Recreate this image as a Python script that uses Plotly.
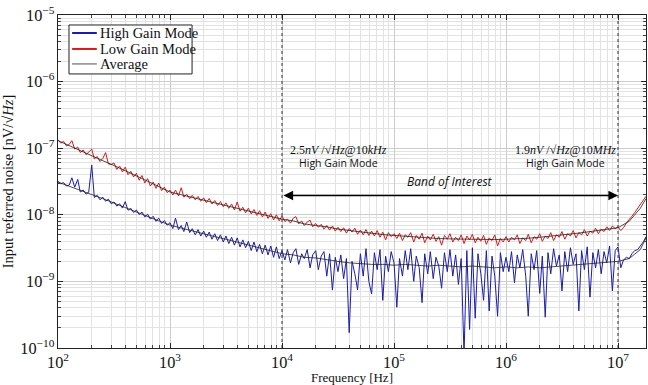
import math
import plotly.graph_objects as go

# Measurement frequency grid [Hz]
freq_hz = [
    100, 106, 112, 119, 126, 133, 141, 150, 158, 168, 178, 188, 200, 211, 224, 237, 251, 266, 282, 299,
    316, 335, 355, 376, 398, 422, 447, 473, 501, 531, 562, 596, 631, 668, 708, 750, 794, 841, 891, 944,
    1000, 1060, 1120, 1190, 1260, 1330, 1410, 1500, 1580, 1680, 1780, 1880, 2000, 2110, 2240, 2370, 2510, 2660, 2820, 2990,
    3160, 3350, 3550, 3760, 3980, 4220, 4470, 4730, 5010, 5310, 5620, 5960, 6310, 6680, 7080, 7500, 7940, 8410, 8910, 9440,
    1.00e4, 1.06e4, 1.12e4, 1.19e4, 1.26e4, 1.33e4, 1.41e4, 1.50e4, 1.58e4, 1.68e4, 1.78e4, 1.88e4, 2.00e4, 2.11e4, 2.24e4, 2.37e4, 2.51e4, 2.66e4, 2.82e4, 2.99e4,
    3.16e4, 3.35e4, 3.55e4, 3.76e4, 3.98e4, 4.22e4, 4.47e4, 4.73e4, 5.01e4, 5.31e4, 5.62e4, 5.96e4, 6.31e4, 6.68e4, 7.08e4, 7.50e4, 7.94e4, 8.41e4, 8.91e4, 9.44e4,
    1.00e5, 1.06e5, 1.12e5, 1.19e5, 1.26e5, 1.33e5, 1.41e5, 1.50e5, 1.58e5, 1.68e5, 1.78e5, 1.88e5, 2.00e5, 2.11e5, 2.24e5, 2.37e5, 2.51e5, 2.66e5, 2.82e5, 2.99e5,
    3.16e5, 3.35e5, 3.55e5, 3.76e5, 3.98e5, 4.22e5, 4.47e5, 4.73e5, 5.01e5, 5.31e5, 5.62e5, 5.96e5, 6.31e5, 6.68e5, 7.08e5, 7.50e5, 7.94e5, 8.41e5, 8.91e5, 9.44e5,
    1.00e6, 1.06e6, 1.12e6, 1.19e6, 1.26e6, 1.33e6, 1.41e6, 1.50e6, 1.58e6, 1.68e6, 1.78e6, 1.88e6, 2.00e6, 2.11e6, 2.24e6, 2.37e6, 2.51e6, 2.66e6, 2.82e6, 2.99e6,
    3.16e6, 3.35e6, 3.55e6, 3.76e6, 3.98e6, 4.22e6, 4.47e6, 4.73e6, 5.01e6, 5.31e6, 5.62e6, 5.96e6, 6.31e6, 6.68e6, 7.08e6, 7.50e6, 7.94e6, 8.41e6, 8.91e6, 9.44e6,
    1.00e7, 1.06e7, 1.12e7, 1.19e7, 1.26e7, 1.33e7, 1.41e7, 1.50e7, 1.58e7, 1.68e7, 1.78e7,
]

# Low gain mode noise [nV/sqrt(Hz)]
low_gain_nv = [
    134, 119, 127, 108, 114, 130, 97, 104, 86, 94, 80, 87, 97, 69, 75, 63, 70, 86, 58, 57,
    60, 48, 54, 44, 52, 40, 45, 37, 42, 33, 39, 30, 35, 27, 31, 25, 30, 23, 26, 21.5,
    23.5, 19.8, 23.5, 19.2, 25.5, 18.4, 20.4, 17.4, 19.6, 16.8, 18.9, 16.0, 18.0, 15.2, 17.6, 14.5, 16.4, 13.8, 15.8, 13.2,
    15.1, 12.5, 14.5, 11.8, 15.6, 11.3, 13.0, 10.7, 12.6, 10.3, 12.0, 9.8, 11.5, 9.3, 11.0, 8.8, 10.4, 8.4, 10.0, 8.1,
    9.6, 7.9, 8.6, 7.5, 8.9, 9.4, 7.3, 8.1, 6.9, 7.8, 8.3, 6.6, 7.4, 6.5, 7.2, 6.1, 6.9, 5.9, 6.8, 5.7,
    6.5, 5.6, 6.4, 5.3, 6.2, 5.5, 6.3, 5.1, 5.9, 5.0, 6.0, 4.9, 5.7, 4.8, 5.8, 4.6, 5.5, 4.2, 5.4, 4.7,
    5.2, 4.4, 5.3, 4.1, 5.0, 4.6, 5.4, 3.9, 4.9, 4.3, 5.3, 3.8, 4.8, 4.2, 5.1, 4.0, 4.7, 3.5, 4.9, 4.3,
    5.2, 3.9, 4.6, 4.1, 5.0, 3.7, 4.8, 4.2, 5.1, 3.8, 4.6, 4.0, 4.9, 3.6, 4.5, 4.1, 5.0, 3.4, 4.4, 3.9,
    4.7, 3.9, 4.6, 4.2, 5.0, 3.7, 4.5, 4.1, 5.1, 3.8, 4.7, 4.3, 5.2, 4.0, 4.8, 4.4, 5.4, 4.1, 5.0, 4.6,
    5.6, 4.3, 5.2, 4.8, 5.8, 4.5, 5.4, 5.0, 6.0, 4.8, 5.7, 5.3, 6.3, 5.2, 6.1, 5.6, 6.6, 5.8, 6.8, 6.2,
    6.6, 5.8, 6.4, 7.6, 8.4, 9.5, 10.8, 12.5, 14.2, 16.5, 19.0,
]

# High gain mode noise [nV/sqrt(Hz)]
high_gain_nv = [
    32, 29, 30.5, 27, 28, 36, 26, 34, 22, 23.5, 20.5, 21.8, 56, 18.2, 19.6, 16.8, 18.4, 16.0, 17.2, 14.6,
    15.6, 13.5, 14.6, 12.6, 15.8, 11.7, 12.5, 10.8, 11.8, 10.1, 11.0, 9.3, 10.2, 8.6, 9.5, 8.0, 8.9, 7.4, 8.2, 7.0,
    7.6, 6.2, 8.9, 6.0, 6.9, 5.6, 7.8, 5.4, 6.2, 5.0, 6.0, 4.8, 5.7, 4.6, 5.5, 4.3, 5.2, 4.1, 5.0, 3.9,
    4.8, 3.7, 4.6, 3.5, 4.5, 3.3, 4.2, 3.2, 4.0, 2.9, 3.9, 2.8, 3.6, 2.6, 3.5, 2.5, 3.4, 2.3, 3.3, 2.2,
    2.9, 2.1, 3.0, 1.9, 2.7, 3.1, 1.8, 2.6, 2.2, 3.0, 1.6, 2.5, 2.9, 1.5, 2.4, 2.8, 1.2, 2.6, 0.74, 2.3,
    1.4, 2.5, 1.1, 2.2, 0.17, 2.0, 1.3, 0.75, 2.6, 1.2, 3.1, 1.0, 0.65, 2.7, 1.5, 3.0, 0.52, 2.4, 1.4, 2.8,
    1.9, 0.41, 2.2, 1.2, 2.9, 1.5, 3.1, 1.0, 2.4, 1.6, 0.48, 2.6, 1.3, 2.8, 1.1, 2.3, 1.7, 0.79, 2.7, 1.4,
    3.0, 1.2, 2.5, 0.9, 2.2, 0.08, 2.9, 0.19, 3.2, 0.28, 2.6, 1.3, 0.52, 2.9, 0.36, 2.4, 1.2, 0.30, 2.7, 1.4,
    2.3, 1.4, 2.8, 0.96, 2.5, 1.6, 3.0, 1.2, 0.30, 2.6, 1.5, 2.9, 0.66, 2.4, 0.29, 2.7, 1.3, 3.1, 1.7, 2.5,
    0.72, 2.8, 1.4, 3.2, 1.8, 2.6, 0.36, 2.9, 1.5, 3.3, 0.58, 2.7, 1.6, 3.0, 1.3, 2.8, 1.9, 3.4, 0.72, 2.9,
    3.3, 1.6, 2.1, 2.3, 2.2, 2.6, 2.9, 3.0, 3.4, 3.9, 4.7,
]

# Smoothed (averaged) spectra on a coarser grid
avg_freq_hz = [
    100, 126, 158, 200, 251, 316, 398, 501, 631, 794,
    1e3, 1.26e3, 1.58e3, 2e3, 2.51e3, 3.16e3, 3.98e3, 5.01e3, 6.31e3, 7.94e3,
    1e4, 1.26e4, 1.58e4, 2e4, 2.51e4, 3.16e4, 3.98e4, 5.01e4, 6.31e4, 7.94e4,
    1e5, 1.26e5, 1.58e5, 2e5, 2.51e5, 3.16e5, 3.98e5, 5.01e5, 6.31e5, 7.94e5,
    1e6, 1.26e6, 1.58e6, 2e6, 2.51e6, 3.16e6, 3.98e6, 5.01e6, 6.31e6, 7.94e6,
    1e7, 1.26e7, 1.58e7, 1.78e7,
]
low_gain_avg_nv = [
    130, 110, 92, 78, 65, 55, 46, 39, 32, 26.5,
    22, 20, 18.2, 16.6, 15.1, 13.7, 12.5, 11.4, 10.3, 9.4,
    8.6, 8.1, 7.3, 6.9, 6.6, 6.1, 5.8, 5.5, 5.25, 5.05,
    4.9, 4.75, 4.6, 4.5, 4.4, 4.35, 4.3, 4.3, 4.25, 4.25,
    4.3, 4.35, 4.45, 4.6, 4.75, 4.95, 5.2, 5.45, 5.75, 6.1,
    6.4, 8.0, 12.5, 17.5,
]
high_gain_avg_nv = [
    31, 27, 23.5, 20.5, 17.5, 15, 12.8, 11, 9.5, 8.1,
    7.0, 6.3, 5.7, 5.2, 4.7, 4.3, 3.9, 3.5, 3.2, 2.9,
    2.6, 2.5, 2.3, 2.25, 2.1, 2.0, 1.9, 1.85, 1.8, 1.8,
    1.75, 1.8, 1.75, 1.7, 1.75, 1.7, 1.65, 1.7, 1.65, 1.6,
    1.65, 1.6, 1.65, 1.6, 1.65, 1.7, 1.75, 1.8, 1.85, 1.9,
    2.0, 2.2, 3.0, 4.5,
]

band_start_hz = 1e4
band_stop_hz = 1e7

series_names = ["High Gain Mode", "Low Gain Mode", "Average"]
series_colors = ["#1c1ca8", "#d41c1c", "#202020"]

NV = 1e-9
SERIF = "Liberation Serif, Times New Roman, serif"
SANS = "Open Sans, Carlito, sans-serif"
INK = "#111111"

fig = go.Figure()

fig.add_trace(go.Scatter(
    x=freq_hz, y=[v * NV for v in high_gain_nv], mode="lines",
    name=series_names[0], line=dict(color=series_colors[0], width=1),
))
fig.add_trace(go.Scatter(
    x=freq_hz, y=[v * NV for v in low_gain_nv], mode="lines",
    name=series_names[1], line=dict(color=series_colors[1], width=1),
))
fig.add_trace(go.Scatter(
    x=avg_freq_hz, y=[v * NV for v in high_gain_avg_nv], mode="lines",
    name=series_names[2], line=dict(color=series_colors[2], width=0.8),
))
fig.add_trace(go.Scatter(
    x=avg_freq_hz, y=[v * NV for v in low_gain_avg_nv], mode="lines",
    name=series_names[2], line=dict(color=series_colors[2], width=0.8),
))

# Band limits as dotted vertical lines
for fb in (band_start_hz, band_stop_hz):
    fig.add_trace(go.Scatter(
        x=[fb, fb], y=[1e-10, 1e-5], mode="lines",
        line=dict(color="#333333", width=1, dash="dot"),
    ))
fig.update_traces(showlegend=False, hoverinfo="skip")

lx0, lx1 = math.log10(band_start_hz), math.log10(band_stop_hz)

annotations = [
    # double-headed arrow spanning the band
    dict(x=lx1, y=math.log10(1.95e-8), ax=lx0, ay=math.log10(1.95e-8),
         xref="x", yref="y", axref="x", ayref="y", text="",
         showarrow=True, arrowhead=2, startarrowhead=2, arrowside="end+start",
         arrowsize=1.2, arrowwidth=1.6, arrowcolor="#000000"),
    dict(x=(lx0 + lx1) / 2, y=math.log10(3.15e-8), xref="x", yref="y",
         text="<i>Band of Interest</i>", showarrow=False,
         font=dict(family=SANS, size=12, color=INK)),
    dict(x=4.5, y=math.log10(9.3e-8), xref="x", yref="y",
         text="2.5<i>nV</i> /√<i>Hz</i>@10<i>kHz</i>", showarrow=False,
         font=dict(family=SERIF, size=12, color=INK)),
    dict(x=4.5, y=math.log10(5.9e-8), xref="x", yref="y",
         text="High Gain Mode", showarrow=False,
         font=dict(family=SANS, size=10.5, color=INK)),
    dict(x=6.53, y=math.log10(9.3e-8), xref="x", yref="y",
         text="1.9<i>nV</i> /√<i>Hz</i>@10<i>MHz</i>", showarrow=False,
         font=dict(family=SERIF, size=12, color=INK)),
    dict(x=6.53, y=math.log10(5.9e-8), xref="x", yref="y",
         text="High Gain Mode", showarrow=False,
         font=dict(family=SANS, size=10.5, color=INK)),
]

# Legend box drawn in paper coordinates
shapes = [dict(type="rect", xref="paper", yref="paper",
               x0=0.0187, x1=0.228, y0=0.823, y1=0.970,
               line=dict(color="#222222", width=1), fillcolor="white", layer="above")]
row_y = [0.946, 0.898, 0.853]
for name, color, yy in zip(series_names, series_colors, row_y):
    shapes.append(dict(type="line", xref="paper", yref="paper",
                       x0=0.024, x1=0.066, y0=yy, y1=yy, layer="above",
                       line=dict(color=color, width=2 if color != "#202020" else 0.8)))
    annotations.append(dict(x=0.068, y=yy, xref="paper", yref="paper",
                            xanchor="left", yanchor="middle", text=name,
                            showarrow=False, font=dict(family=SERIF, size=14.5, color=INK)))

axis_common = dict(
    type="log", showline=True, linecolor="#222222", linewidth=1, mirror="ticks",
    ticks="inside", ticklen=5, tickcolor="#222222", exponentformat="power",
    showgrid=True, gridcolor="#cccccc", gridwidth=1, zeroline=False,
    tickfont=dict(family=SERIF, size=13, color=INK),
    minor=dict(ticks="inside", ticklen=3, tickcolor="#444444",
               showgrid=True, gridcolor="#e2e2e2", gridwidth=1),
)

fig.update_layout(
    width=648, height=385,
    margin=dict(l=58, r=2, t=15, b=37),
    paper_bgcolor="white", plot_bgcolor="white",
    showlegend=False,
    annotations=annotations,
    shapes=shapes,
    xaxis=dict(axis_common, range=[2, 7.25], dtick=1,
               title=dict(text="Frequency [Hz]", standoff=0,
                          font=dict(family=SERIF, size=13, color=INK))),
    yaxis=dict(axis_common, range=[-10, -5], dtick=1,
               title=dict(text="Input referred noise [nV/√<i>Hz</i>]", standoff=4,
                          font=dict(family=SERIF, size=14.5, color=INK))),
)

fig.write_html("out.html")
